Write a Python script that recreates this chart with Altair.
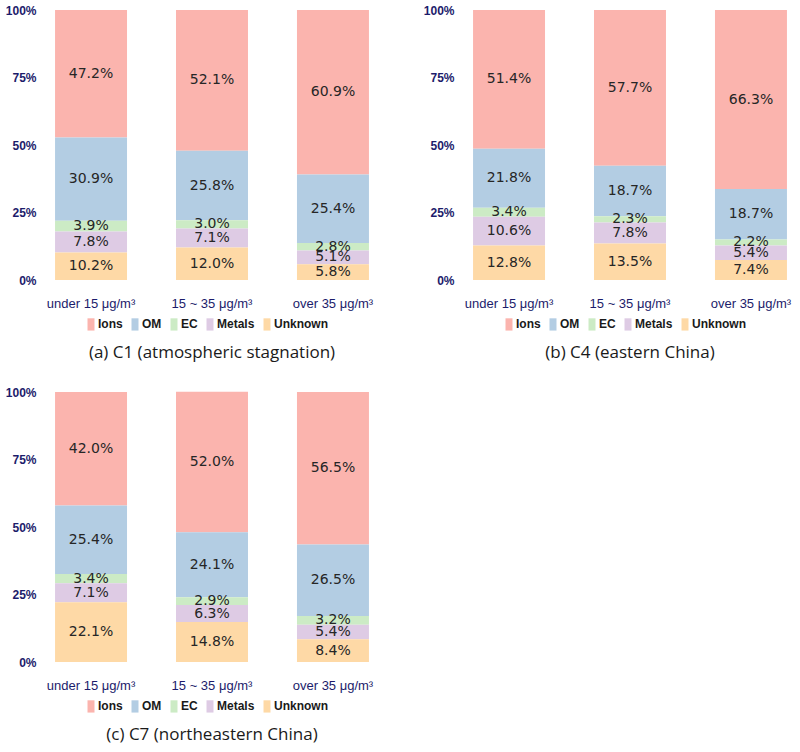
import altair as alt
import pandas as pd

# PM2.5 concentration bins (x axis) and chemical components (stack order top -> bottom)
categories = ["under 15 μg/m³", "15 ~ 35 μg/m³", "over 35 μg/m³"]
components = ["Ions", "OM", "EC", "Metals", "Unknown"]
palette = ["#fbb4ae", "#b3cde3", "#ccebc5", "#decbe4", "#fed9a6"]

# Component shares (%) per bin, cluster C1
c1_ions = [47.2, 52.1, 60.9]
c1_om = [30.9, 25.8, 25.4]
c1_ec = [3.9, 3.0, 2.8]
c1_metals = [7.8, 7.1, 5.1]
c1_unknown = [10.2, 12.0, 5.8]

# Cluster C4
c4_ions = [51.4, 57.7, 66.3]
c4_om = [21.8, 18.7, 18.7]
c4_ec = [3.4, 2.3, 2.2]
c4_metals = [10.6, 7.8, 5.4]
c4_unknown = [12.8, 13.5, 7.4]

# Cluster C7
c7_ions = [42.0, 52.0, 56.5]
c7_om = [25.4, 24.1, 26.5]
c7_ec = [3.4, 2.9, 3.2]
c7_metals = [7.1, 6.3, 5.4]
c7_unknown = [22.1, 14.8, 8.4]

captions = [
    "(a) C1 (atmospheric stagnation)",
    "(b) C4 (eastern China)",
    "(c) C7 (northeastern China)",
]

NAVY = "#1c1c6b"


def make_frame(series):
    rows = []
    for comp, vals in zip(components, series):
        for cat, v in zip(categories, vals):
            rows.append({
                "cat": cat,
                "comp": comp,
                "value": v,
                # Unknown sits at the bottom, Ions on top
                "rank": len(components) - components.index(comp),
            })
    return pd.DataFrame(rows)


def panel(series, caption):
    df = make_frame(series)
    base = alt.Chart(df).transform_stack(
        stack="value",
        groupby=["cat"],
        as_=["lo", "hi"],
        sort=[alt.SortField("rank", order="ascending")],
    ).transform_calculate(
        mid="(datum.lo + datum.hi) / 2",
        lbl="format(datum.value, '.1f') + '%'",
    )

    x = alt.X(
        "cat:N",
        sort=categories,
        title=None,
        scale=alt.Scale(paddingInner=0.405, paddingOuter=0.05),
        axis=alt.Axis(
            labelAngle=0,
            labelFont="Liberation Sans",
            labelFontSize=13,
            labelColor=NAVY,
            labelPadding=17,
            domain=False,
            ticks=False,
        ),
    )
    yscale = alt.Scale(domain=[0, 100], nice=False)

    bars = base.mark_bar().encode(
        x=x,
        y=alt.Y(
            "lo:Q",
            scale=yscale,
            title=None,
            axis=alt.Axis(
                values=[0, 25, 50, 75, 100],
                labelExpr="datum.value + '%'",
                labelFont="Liberation Sans",
                labelFontWeight="bold",
                labelFontSize=12,
                labelColor=NAVY,
                labelPadding=13,
                domain=False,
                ticks=False,
                grid=False,
            ),
        ),
        y2="hi:Q",
        color=alt.Color(
            "comp:N",
            scale=alt.Scale(domain=components, range=palette),
            legend=alt.Legend(
                title=None,
                orient="none",
                direction="horizontal",
                legendX=36,
                legendY=308,
                # narrow, tall swatch
                symbolType="M-1,-1.75H1V1.75H-1Z",
                symbolSize=49,
                symbolStrokeWidth=0,
                symbolOpacity=1,
                labelFont="Liberation Sans",
                labelFontWeight="bold",
                labelFontSize=12,
                labelColor="#1a1a1a",
                labelOffset=1,
                columnPadding=6,
            ),
        ),
    )

    labels = base.mark_text(
        font="DejaVu Sans", fontSize=14, color="#262626", baseline="middle"
    ).encode(x=x, y=alt.Y("mid:Q", scale=yscale), text="lbl:N")

    return alt.layer(bars, labels).properties(
        width=326,
        height=270,
        title=alt.TitleParams(
            caption,
            orient="bottom",
            frame="group",
            anchor="middle",
            font="Open Sans",
            fontSize=17,
            fontWeight="normal",
            color="#1a1a1a",
            offset=14,
        ),
    )


pa = panel([c1_ions, c1_om, c1_ec, c1_metals, c1_unknown], captions[0])
pb = panel([c4_ions, c4_om, c4_ec, c4_metals, c4_unknown], captions[1])
pc = panel([c7_ions, c7_om, c7_ec, c7_metals, c7_unknown], captions[2])

top = alt.hconcat(pa, pb, spacing=48).resolve_scale(color="independent")
chart = alt.vconcat(top, pc, spacing=25).resolve_scale(color="independent").properties(
    padding={"left": 5, "top": 4, "right": 0, "bottom": 0},
    background="white",
).configure_view(stroke=None)

chart.save("out.html", embed_options={"renderer": "svg", "actions": False})
